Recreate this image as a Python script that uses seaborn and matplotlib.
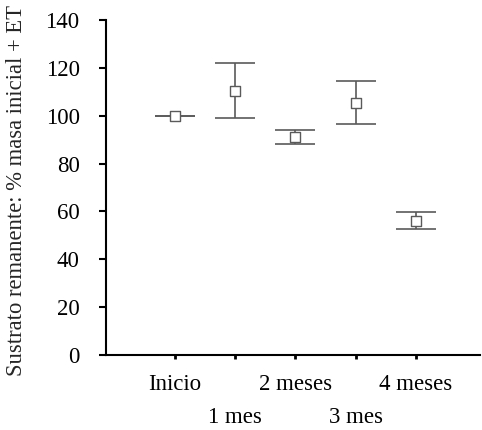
import matplotlib
matplotlib.use("Agg")
import matplotlib.pyplot as plt
import seaborn as sns
import pandas as pd

# Remaining substrate (% of initial mass) with standard error
periodos = ["Inicio", "1 mes", "2 meses", "3 mes", "4 meses"]
media = [100.0, 110.5, 91.0, 105.5, 56.2]
error = [0.0, 11.4, 2.9, 8.8, 3.4]

df = pd.DataFrame({"periodo": periodos, "media": media, "error": error})
df["pos"] = range(len(df))

sns.set_theme(style="ticks")
plt.rcParams["font.family"] = ["Liberation Serif", "DejaVu Serif"]

fig = plt.figure(figsize=(4.82, 4.30), dpi=100)
ax = fig.add_axes([106 / 482, 75 / 430, (480 - 106) / 482, (355 - 20) / 430])

gris = "#5a5a5a"
ax.errorbar(df["pos"], df["media"], yerr=df["error"], fmt="none",
            ecolor=gris, elinewidth=1.2, capsize=14.4, capthick=1.2, zorder=2)
sns.scatterplot(data=df, x="pos", y="media", marker="s", s=42,
                facecolor="white", edgecolor=gris, linewidth=1.0,
                ax=ax, zorder=3, legend=False)

ax.set_xlim(-1.14, 5.06)
ax.set_ylim(0, 140)
ax.set_yticks(range(0, 141, 20))
ax.set_xticks(df["pos"])
etiquetas = [p if i % 2 == 0 else "\n" + p for i, p in enumerate(periodos)]
ax.set_xticklabels(etiquetas, linespacing=1.75)

for s in ["top", "right"]:
    ax.spines[s].set_visible(False)
for s in ["left", "bottom"]:
    ax.spines[s].set_linewidth(1.5)
    ax.spines[s].set_color("black")

ax.tick_params(axis="y", direction="out", length=5, width=1.5, labelsize=16.5,
               colors="black", pad=14)
ax.tick_params(axis="x", direction="out", length=3, width=2, labelsize=16.5,
               colors="black", pad=10.5)

ax.set_xlabel("")
ax.set_ylabel("Sustrato remanente: % masa inicial + ET", fontsize=16.3)
ax.yaxis.set_label_coords(-0.21, 0.49)

fig.savefig("out.png", dpi=100, facecolor="white")
